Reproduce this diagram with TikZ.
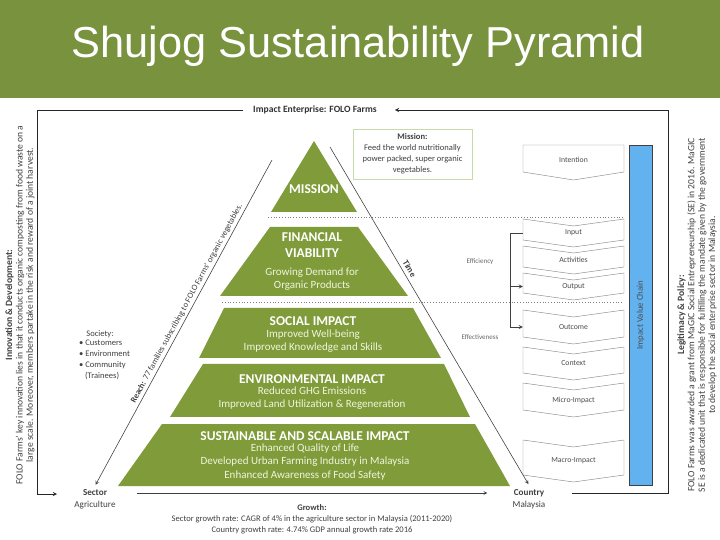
\documentclass[tikz,border=0pt]{standalone}
\usepackage{fontspec}
\setmainfont{Carlito}
\newfontfamily\titlefont{Liberation Sans}
\usepackage{tikz}
\definecolor{barolive}{RGB}{120,146,62}
\definecolor{leafgreen}{RGB}{128,156,58}
\definecolor{leafpale}{RGB}{240,244,222}
\definecolor{chainblue}{RGB}{98,178,240}
\definecolor{boxline}{RGB}{198,218,170}
\newcommand{\tiercol}{leafgreen}
\newcommand{\notecol}{black!75}

\tikzset{
  titletext/.style={text=white, font=\titlefont\fontsize{37}{44}\selectfont},
  tierhead/.style={text=white, align=center, font=\fontsize{11.5}{13.5}\selectfont\bfseries},
  tierbody/.style={text=leafpale, align=center, font=\fontsize{9.4}{11.4}\selectfont},
  smalltext/.style={text=\notecol, align=center, font=\fontsize{7.3}{9.4}\selectfont},
  notetext/.style={text=black!60, font=\fontsize{6}{7}\selectfont},
  sidetext/.style={text=\notecol, align=center, rotate=90, font=\fontsize{8.2}{8.8}\selectfont},
  missionbox/.style={draw=boxline, fill=white, line width=0.6pt, minimum width=3.57cm, minimum height=1.5cm, inner sep=0pt},
  chevron/.style={draw=black!45, line width=0.4pt, fill=white},
  chainlabel/.style={text=black!70, font=\fontsize{6.6}{7.5}\selectfont, minimum width=3.03cm, inner sep=0pt},
  chainbar/.style={draw=black!75, fill=chainblue, rotate=90, minimum width=10.2cm, minimum height=0.69cm, inner sep=0pt, text=black!70, font=\fontsize{7.5}{8.5}\selectfont},
  frameline/.style={draw=black!85, line width=0.6pt},
  guideline/.style={draw=black!75, line width=0.5pt},
  dottedrule/.style={draw=black!50, dotted, line width=0.4pt},
  endlabel/.style={text=\notecol, font=\fontsize{7.8}{9}\selectfont}
}

\begin{document}
\begin{tikzpicture}[x=0.03cm, y=-0.03cm, >=stealth]

    \useasboundingbox (0,0) rectangle (720,540);

    % title bar
    \fill[barolive] (0,0) rectangle (720,98);
    \node[titletext] (title) at (358,46) {Shujog Sustainability Pyramid};

    \node[font=\fontsize{8.2}{9}\selectfont\bfseries, text=black!80] (enterprise) at (315,110) {Impact Enterprise: FOLO Farms};

    % side texts
    \node[sidetext] (innov) at (20,305) {\textbf{Innovation \& Development:}\\FOLO Farms' key innovation lies in that it conducts organic composting from food waste on a\\large scale. Moreover, members partake in the risk and reward of a joint harvest.};
    \node[sidetext] (legit) at (697,315) {\textbf{Legitimacy \& Policy:}\\FOLO Farms was awarded a grant from MaGIC Social Entrepreneurship (SE) in 2016. MaGIC\\SE is a dedicated unit that is responsible for fulfilling the mandate given by the government\\to develop the social enterprise sector in Malaysia.};

    % dotted rules
    \draw[dottedrule] (268,217) -- (624,217);
    \draw[dottedrule] (222,302) -- (624,302);

    % pyramid tiers
    \fill[\tiercol] (314,141) -- (357,212) -- (271,212) -- cycle;
    \fill[\tiercol] (270,227) -- (358,227) -- (408,296) -- (220,296) -- cycle;
    \fill[\tiercol] (224,308) -- (413,308) -- (441,358) -- (199,358) -- cycle;
    \fill[\tiercol] (203,364) -- (444,364) -- (470,417) -- (170,417) -- cycle;
    \fill[\tiercol] (162,424) -- (475,424) -- (510,486) -- (118,486) -- cycle;

    \node[tierhead] (mission) at (314,189) {MISSION};
    \node[tierhead] (finhead) at (312,245) {FINANCIAL\\VIABILITY};
    \node[tierbody] (finbody) at (312,279) {Growing Demand for\\Organic Products};
    \node[tierhead] (sochead) at (313,321) {SOCIAL IMPACT};
    \node[tierbody] (socbody) at (313,341) {Improved Well-being\\Improved Knowledge and Skills};
    \node[tierhead] (envhead) at (312,379) {ENVIRONMENTAL IMPACT};
    \node[tierbody] (envbody) at (312,398) {Reduced GHG Emissions\\Improved Land Utilization \& Regeneration};
    \node[tierhead] (sushead) at (305,436) {SUSTAINABLE AND SCALABLE IMPACT};
    \node[tierbody] (susbody) at (305,462) {Enhanced Quality of Life\\Developed Urban Farming Industry in Malaysia\\Enhanced Awareness of Food Safety};

    \node[missionbox, smalltext] (missionnote) at (412.5,154) {\textbf{Mission:}\\Feed the world nutritionally\\power packed, super organic\\vegetables.};

    % society
    \node[smalltext] (society) at (100,334) {Society:};
    \node[smalltext, align=left, anchor=north west, inner sep=0pt] (groups) at (79,340) {\textbullet\ Customers\\\textbullet\ Environment\\\textbullet\ Community\\\hspace{5pt}(Trainees)};

    % sector and country
    \node[endlabel, font=\fontsize{7.8}{9}\selectfont\bfseries] (sector) at (95,493) {Sector};
    \node[endlabel] (sectorname) at (95,505) {Agriculture};
    \node[endlabel, font=\fontsize{7.8}{9}\selectfont\bfseries] (country) at (529,493) {Country};
    \node[endlabel] (countryname) at (529,505) {Malaysia};

    \node[smalltext] (growth) at (312,519) {\textbf{Growth:}\\Sector growth rate: CAGR of 4\% in the agriculture sector in Malaysia (2011-2020)\\Country growth rate: 4.74\% GDP annual growth rate 2016};

    % value chain
    \draw[chevron] (523,145) -- (624,145) -- (624,172) -- (573.5,180) -- (523,172) -- cycle;
    \node[chainlabel] (intention) at (573.5,160) {Intention};
    \draw[chevron] (523,219) -- (573.5,226) -- (624,219) -- (624,240) -- (573.5,247) -- (523,240) -- cycle;
    \node[chainlabel] (input) at (573.5,233) {Input};
    \draw[chevron] (523,246) -- (573.5,253) -- (624,246) -- (624,267) -- (573.5,274) -- (523,267) -- cycle;
    \node[chainlabel] (activities) at (573.5,260) {Activities};
    \draw[chevron] (523,273) -- (573.5,280) -- (624,273) -- (624,293) -- (573.5,300) -- (523,293) -- cycle;
    \node[chainlabel] (output) at (573.5,286.5) {Output};
    \draw[chevron] (523,310) -- (573.5,317) -- (624,310) -- (624,337) -- (573.5,344) -- (523,337) -- cycle;
    \node[chainlabel] (outcome) at (573.5,327) {Outcome};
    \draw[chevron] (523,347) -- (573.5,354) -- (624,347) -- (624,373) -- (573.5,380) -- (523,373) -- cycle;
    \node[chainlabel] (context) at (573.5,363.5) {Context};
    \draw[chevron] (523,383) -- (573.5,390) -- (624,383) -- (624,410) -- (573.5,417) -- (523,410) -- cycle;
    \node[chainlabel] (microimpact) at (573.5,400) {Micro-Impact};
    \draw[chevron] (523,440) -- (573.5,447) -- (624,440) -- (624,475) -- (573.5,482) -- (523,475) -- cycle;
    \node[chainlabel] (macroimpact) at (573.5,461) {Macro-Impact};

    \node[chainbar] (chain) at (640.5,315) {Impact Value Chain};

    \node[notetext] (efficiency) at (480,262) {Efficiency};
    \node[notetext] (effectiveness) at (480,337) {Effectiveness};

    % efficiency bracket
    \draw[guideline, ->] (input.west) -- ++(-12,0) coordinate (effTop) |- (outcome.west);
    \draw[guideline, ->] (effTop |- output.west) -- (output.west);

    % reach and time
    \coordinate (reachTop) at (272,160);
    \coordinate (timeTop) at (330,147);
    \draw[guideline, <-, shorten <=1pt] (sector.north) -- node[sloped, above, pos=0.55, inner sep=2pt, text=\notecol, font=\fontsize{7.2}{8}\selectfont] {\textbf{Reach:} 77 families subscribing to FOLO Farms' organic vegetables.} (reachTop);
    \draw[guideline, ->, shorten >=1pt] (timeTop) -- node[sloped, above, pos=0.37, inner sep=3pt, text=\notecol, font=\fontsize{7.4}{8}\selectfont\bfseries] {Time} (country.north);

    % growth
    \draw[guideline, ->, shorten <=22pt, shorten >=19pt] (sector.east) -- (country.west);

    % outer frame
    \coordinate (innovEnd) at (57,494);
    \coordinate (legitStart) at (572,493);
    \draw[frameline, ->] ([xshift=-5pt]enterprise.west) -| (37,494) -- (innovEnd);
    \draw[frameline, ->] (legitStart) -| (668,110) -- ([xshift=12pt]enterprise.east);

\end{tikzpicture}
\end{document}
